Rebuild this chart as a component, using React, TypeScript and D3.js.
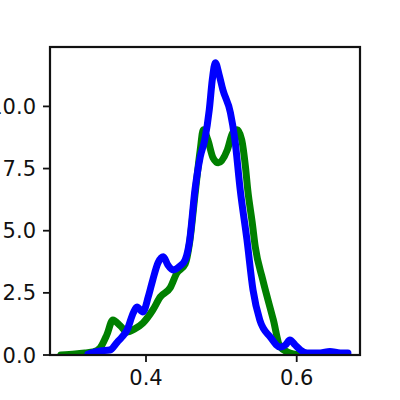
import React from "react";
import * as d3 from "d3";

const greenX = [0.287, 0.306, 0.319, 0.330, 0.339, 0.348, 0.356, 0.366, 0.375, 0.385, 0.396, 0.409, 0.419, 0.432, 0.441, 0.452, 0.458, 0.465, 0.472, 0.476, 0.482, 0.489, 0.496, 0.508, 0.515, 0.521, 0.527, 0.532, 0.535, 0.541, 0.545, 0.555, 0.569, 0.578, 0.591, 0.605];
const greenY = [0, 0.04, 0.08, 0.12, 0.28, 0.81, 1.41, 1.17, 0.93, 1.05, 1.29, 1.81, 2.34, 2.70, 3.30, 3.66, 4.55, 6.44, 8.26, 9.06, 8.66, 7.93, 7.73, 8.26, 8.94, 9.06, 8.66, 7.57, 6.65, 5.32, 4.35, 3.02, 1.41, 0.32, 0.08, 0];

const blueX = [0.323, 0.339, 0.352, 0.362, 0.368, 0.375, 0.383, 0.388, 0.396, 0.403, 0.409, 0.416, 0.423, 0.429, 0.436, 0.445, 0.452, 0.458, 0.465, 0.472, 0.478, 0.484, 0.488, 0.492, 0.497, 0.502, 0.512, 0.518, 0.525, 0.534, 0.542, 0.551, 0.565, 0.578, 0.585, 0.591, 0.598, 0.605, 0.614, 0.631, 0.644, 0.658, 0.668];
const blueY = [0.04, 0.16, 0.20, 0.52, 0.72, 1.01, 1.69, 1.93, 1.73, 2.34, 3.02, 3.71, 3.95, 3.62, 3.42, 3.58, 3.83, 4.63, 6.65, 7.97, 8.66, 9.87, 11.08, 11.76, 11.28, 10.67, 9.75, 8.66, 6.65, 4.63, 2.62, 1.41, 0.72, 0.32, 0.40, 0.60, 0.40, 0.20, 0.08, 0.08, 0.14, 0.08, 0.08];

const xTicks = [0.4, 0.6];
const yTicks = [0, 2.5, 5, 7.5, 10];

const L = 50, R = 360, T = 47, B = 355;

export default function App() {
  const x = d3.scaleLinear().domain([0.2726, 0.684]).range([L, R]);
  const y = d3.scaleLinear().domain([0, 12.39]).range([B, T]);
  const line = d3
    .line<[number, number]>()
    .x((d) => x(d[0]))
    .y((d) => y(d[1]))
    .curve(d3.curveMonotoneX);
  const g = greenX.map((v, i) => [v, greenY[i]] as [number, number]);
  const b = blueX.map((v, i) => [v, blueY[i]] as [number, number]);
  const font = "'DejaVu Sans', sans-serif";
  return (
    <svg
      width={400}
      height={400}
      style={{ position: "absolute", left: 0, top: 0, background: "#fff" }}
    >
      <rect x={0} y={0} width={400} height={400} fill="#fff" />
      <defs>
        <clipPath id="clip">
          <rect x={L} y={T} width={R - L} height={B - T} />
        </clipPath>
      </defs>
      <g clipPath="url(#clip)">
        <path d={line(g) || ""} fill="none" stroke="#008000" strokeWidth={7} strokeLinejoin="round" strokeLinecap="round" />
        <path d={line(b) || ""} fill="none" stroke="#0000ff" strokeWidth={7} strokeLinejoin="round" strokeLinecap="round" />
      </g>
      <rect x={L} y={T} width={R - L} height={B - T} fill="none" stroke="#111" strokeWidth={2.2} />
      {xTicks.map((t) => (
        <g key={t}>
          <line x1={x(t)} x2={x(t)} y1={B} y2={B + 7} stroke="#111" strokeWidth={1.8} />
          <text x={x(t)} y={385} textAnchor="middle" fontFamily={font} fontSize={21} fill="#111">
            {t.toFixed(1)}
          </text>
        </g>
      ))}
      {yTicks.map((t) => (
        <g key={t}>
          <line x1={L - 7} x2={L} y1={y(t)} y2={y(t)} stroke="#111" strokeWidth={1.8} />
          <text x={36} y={y(t)} dy="0.36em" textAnchor="end" fontFamily={font} fontSize={21} fill="#111">
            {t.toFixed(1)}
          </text>
        </g>
      ))}
    </svg>
  );
}
